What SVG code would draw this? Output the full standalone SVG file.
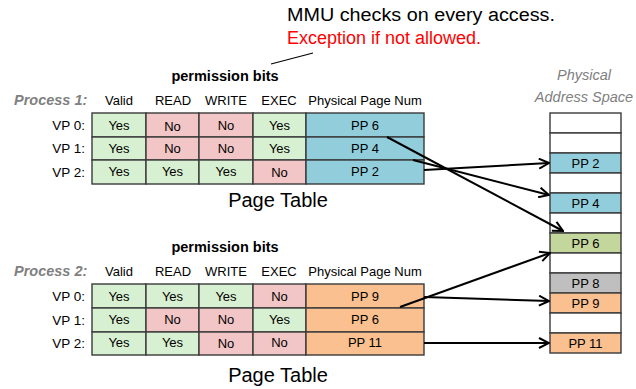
<svg xmlns="http://www.w3.org/2000/svg" width="636" height="389" viewBox="0 0 636 389">
  <style>
    text { font-family: "Liberation Sans", Arial, sans-serif; fill: #000; }
    .cell { stroke: #3a3a3a; stroke-width: 1.4; }
    .g { fill: #d8f0d2; }
    .r { fill: #f2c6c6; }
    .b { fill: #92cddc; }
    .o { fill: #fac090; }
    .v { fill: #c3d69b; }
    .k { fill: #bfbfbf; }
    .w { fill: #ffffff; }
    .ct { font-size: 13px; text-anchor: middle; }
    .hd { font-size: 13px; text-anchor: middle; }
    .vp { font-size: 13.5px; text-anchor: end; }
    .perm { font-size: 14.5px; font-weight: bold; text-anchor: middle; }
    .proc { font-size: 14.5px; font-weight: bold; font-style: italic; fill: #808080; }
    .title { font-size: 20px; text-anchor: middle; }
    .pas { font-size: 14.5px; font-style: italic; fill: #808080; text-anchor: middle; }
    .note { font-size: 18px; }
    .link { stroke: #000; stroke-width: 2; fill: none; marker-end: url(#open); }
  </style>
  <defs>
    <marker id="open" viewBox="0 0 12 12" refX="11" refY="6" markerWidth="12" markerHeight="12" markerUnits="userSpaceOnUse" orient="auto">
      <path d="M1,1 L11,6 L1,11" fill="none" stroke="#000" stroke-width="2"/>
    </marker>
  </defs>

  <!-- MMU note -->
  <g id="note">
    <text class="note" x="287" y="21" textLength="268" lengthAdjust="spacingAndGlyphs">MMU checks on every access.</text>
    <text class="note" x="287" y="44" style="fill:#ff0000">Exception if not allowed.</text>
    <line x1="271" y1="64" x2="313" y2="53" stroke="#000" stroke-width="1.2"/>
  </g>

  <!-- Process 1 page table -->
  <g id="table1">
    <text class="perm" x="225" y="81">permission bits</text>
    <text class="proc" x="14" y="105">Process 1:</text>
    <text class="hd" x="119" y="105">Valid</text>
    <text class="hd" x="173" y="105">READ</text>
    <text class="hd" x="226" y="105">WRITE</text>
    <text class="hd" x="279" y="105">EXEC</text>
    <text class="hd" x="365" y="105">Physical Page Num</text>

    <text class="vp" x="85" y="130">VP 0:</text>
    <text class="vp" x="85" y="153">VP 1:</text>
    <text class="vp" x="85" y="177">VP 2:</text>

    <rect class="cell g" x="92" y="113" width="54" height="24"/>
    <rect class="cell r" x="146" y="113" width="53" height="24"/>
    <rect class="cell r" x="199" y="113" width="54" height="24"/>
    <rect class="cell g" x="253" y="113" width="53" height="24"/>
    <rect class="cell b" x="306" y="113" width="118" height="24"/>

    <rect class="cell g" x="92" y="137" width="54" height="23"/>
    <rect class="cell r" x="146" y="137" width="53" height="23"/>
    <rect class="cell r" x="199" y="137" width="54" height="23"/>
    <rect class="cell g" x="253" y="137" width="53" height="23"/>
    <rect class="cell b" x="306" y="137" width="118" height="23"/>

    <rect class="cell g" x="92" y="160" width="54" height="24"/>
    <rect class="cell g" x="146" y="160" width="53" height="24"/>
    <rect class="cell g" x="199" y="160" width="54" height="24"/>
    <rect class="cell r" x="253" y="160" width="53" height="24"/>
    <rect class="cell b" x="306" y="160" width="118" height="24"/>

    <text class="ct" x="119" y="130">Yes</text>
    <text class="ct" x="172.5" y="131">No</text>
    <text class="ct" x="226" y="130">No</text>
    <text class="ct" x="279.5" y="130">Yes</text>
    <text class="ct" x="365" y="130">PP 6</text>

    <text class="ct" x="119" y="153">Yes</text>
    <text class="ct" x="172.5" y="153">No</text>
    <text class="ct" x="226" y="153">No</text>
    <text class="ct" x="279.5" y="153">Yes</text>
    <text class="ct" x="365" y="153">PP 4</text>

    <text class="ct" x="119" y="176">Yes</text>
    <text class="ct" x="172.5" y="176">Yes</text>
    <text class="ct" x="226" y="176">Yes</text>
    <text class="ct" x="279.5" y="177">No</text>
    <text class="ct" x="365" y="176">PP 2</text>

    <text class="title" x="278" y="207">Page Table</text>
  </g>

  <!-- Process 2 page table -->
  <g id="table2">
    <text class="perm" x="225" y="252">permission bits</text>
    <text class="proc" x="14" y="276">Process 2:</text>
    <text class="hd" x="119" y="276">Valid</text>
    <text class="hd" x="173" y="276">READ</text>
    <text class="hd" x="226" y="276">WRITE</text>
    <text class="hd" x="279" y="276">EXEC</text>
    <text class="hd" x="365" y="276">Physical Page Num</text>

    <text class="vp" x="85" y="301">VP 0:</text>
    <text class="vp" x="85" y="325">VP 1:</text>
    <text class="vp" x="85" y="348">VP 2:</text>

    <rect class="cell g" x="92" y="284" width="54" height="24"/>
    <rect class="cell g" x="146" y="284" width="53" height="24"/>
    <rect class="cell g" x="199" y="284" width="54" height="24"/>
    <rect class="cell r" x="253" y="284" width="53" height="24"/>
    <rect class="cell o" x="306" y="284" width="118" height="24"/>

    <rect class="cell g" x="92" y="308" width="54" height="24"/>
    <rect class="cell r" x="146" y="308" width="53" height="24"/>
    <rect class="cell r" x="199" y="308" width="54" height="24"/>
    <rect class="cell g" x="253" y="308" width="53" height="24"/>
    <rect class="cell o" x="306" y="308" width="118" height="24"/>

    <rect class="cell g" x="92" y="332" width="54" height="23"/>
    <rect class="cell g" x="146" y="332" width="53" height="23"/>
    <rect class="cell r" x="199" y="332" width="54" height="23"/>
    <rect class="cell r" x="253" y="332" width="53" height="23"/>
    <rect class="cell o" x="306" y="332" width="118" height="23"/>

    <text class="ct" x="119" y="301">Yes</text>
    <text class="ct" x="172.5" y="301">Yes</text>
    <text class="ct" x="226" y="301">Yes</text>
    <text class="ct" x="279.5" y="301">No</text>
    <text class="ct" x="365" y="301">PP 9</text>

    <text class="ct" x="119" y="324">Yes</text>
    <text class="ct" x="172.5" y="324">No</text>
    <text class="ct" x="226" y="324">No</text>
    <text class="ct" x="279.5" y="324">Yes</text>
    <text class="ct" x="365" y="324">PP 6</text>

    <text class="ct" x="119" y="347">Yes</text>
    <text class="ct" x="172.5" y="347">Yes</text>
    <text class="ct" x="226" y="348">No</text>
    <text class="ct" x="279.5" y="347">No</text>
    <text class="ct" x="365" y="347">PP 11</text>

    <text class="title" x="278" y="382">Page Table</text>
  </g>

  <!-- Physical address space -->
  <g id="physical">
    <text class="pas" x="584" y="80">Physical</text>
    <text class="pas" x="584" y="102">Address Space</text>
    <rect class="cell w" x="550" y="113" width="71" height="20"/>
    <rect class="cell w" x="550" y="133" width="71" height="20"/>
    <rect class="cell b" x="550" y="153" width="71" height="20"/>
    <rect class="cell w" x="550" y="173" width="71" height="20"/>
    <rect class="cell b" x="550" y="193" width="71" height="20"/>
    <rect class="cell w" x="550" y="213" width="71" height="20"/>
    <rect class="cell v" x="550" y="233" width="71" height="20"/>
    <rect class="cell w" x="550" y="253" width="71" height="20"/>
    <rect class="cell k" x="550" y="273" width="71" height="20"/>
    <rect class="cell o" x="550" y="293" width="71" height="20"/>
    <rect class="cell w" x="550" y="313" width="71" height="20"/>
    <rect class="cell o" x="550" y="333" width="71" height="20"/>
    <text class="ct" x="585.5" y="168">PP 2</text>
    <text class="ct" x="585.5" y="208">PP 4</text>
    <text class="ct" x="585.5" y="248">PP 6</text>
    <text class="ct" x="585.5" y="288">PP 8</text>
    <text class="ct" x="585.5" y="308">PP 9</text>
    <text class="ct" x="585.5" y="348">PP 11</text>
  </g>

  <!-- Mappings -->
  <g id="connectors">
    <line class="link" x1="387" y1="137" x2="563" y2="231"/>
    <line class="link" x1="413" y1="160" x2="549" y2="195"/>
    <line class="link" x1="424" y1="170" x2="549" y2="163"/>
    <line class="link" x1="400" y1="307" x2="550" y2="253"/>
    <line class="link" x1="424" y1="297" x2="549" y2="301"/>
    <line class="link" x1="424" y1="343" x2="549" y2="343"/>
  </g>
</svg>
